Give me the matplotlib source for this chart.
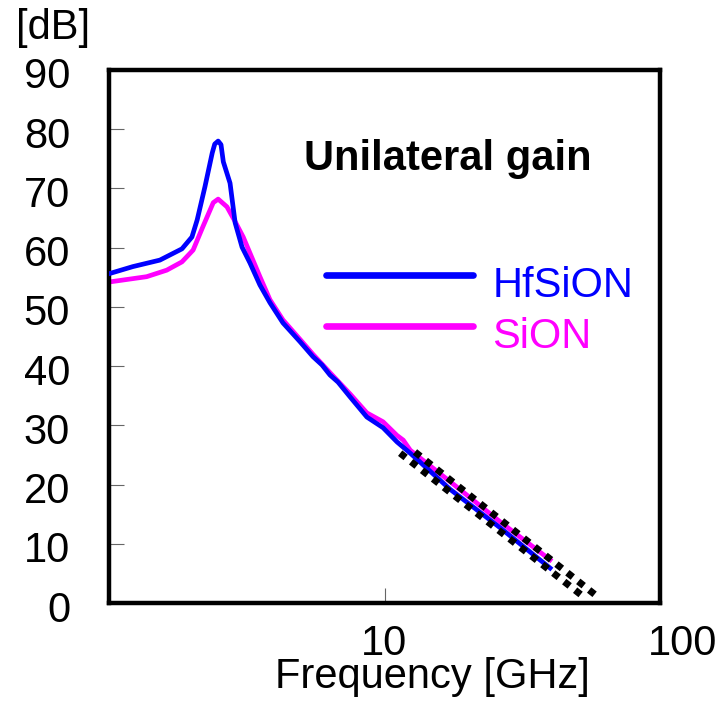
import matplotlib
matplotlib.use("Agg")
import matplotlib.pyplot as plt
from matplotlib.transforms import ScaledTranslation

plt.rcParams['font.family'] = ['Liberation Sans', 'DejaVu Sans']

#----------------------------------------------------------------
# Unilateral gain vs frequency (GHz, dB)
freq_hfsion = [1.0, 1.22, 1.53, 1.84, 2.00, 2.09, 2.23, 2.37, 2.42, 2.49, 2.55, 2.60,
               2.75, 2.87, 3.04, 3.25, 3.53, 3.84, 4.28, 4.94, 5.50, 5.93, 6.34, 6.78,
               7.50, 8.63, 9.88, 11.1, 12.4, 17.3, 26.3, 39.9]
gain_hfsion = [55.6, 56.8, 57.9, 59.8, 61.8, 64.7, 70.3, 76.0, 77.5, 78.0, 77.4, 74.5,
               70.9, 64.2, 60.1, 57.4, 53.7, 50.7, 47.3, 44.1, 41.6, 40.2, 38.5, 37.3,
               34.8, 31.4, 29.6, 27.2, 25.3, 19.2, 12.7, 5.9]

freq_sion = [1.0, 1.37, 1.62, 1.84, 2.02, 2.19, 2.39, 2.49, 2.68, 2.87, 3.07, 3.33,
             3.53, 3.84, 4.28, 4.94, 5.50, 6.34, 7.50, 8.63, 9.88, 11.1, 11.7, 12.4,
             17.3, 26.3, 39.9]
gain_sion = [54.2, 55.1, 56.2, 57.6, 59.6, 63.5, 67.6, 68.2, 66.9, 64.4, 61.8, 57.9,
             55.1, 51.2, 47.8, 44.5, 42.0, 38.9, 35.3, 32.1, 30.6, 28.3, 27.5, 25.8,
             20.5, 13.7, 7.3]

# extrapolation lines (start/end points)
fit_upper_f = [12.9, 59.6]
fit_upper_db = [25.5, 1.0]
fit_lower_f = [11.4, 53.5]
fit_lower_db = [25.3, 0.84]
#----------------------------------------------------------------

fig = plt.figure(figsize=(7.21, 7.14), dpi=100)
ax = fig.add_axes([109/721, 1 - 603/714, 551/721, 533/714])

ax.plot(freq_sion, gain_sion, color='#FF00FF', lw=3.4, solid_joinstyle='round', label='SiON', zorder=2)
ax.plot(freq_hfsion, gain_hfsion, color='#0000FF', lw=3.4, solid_joinstyle='round', label='HfSiON', zorder=3)
ax.plot(fit_upper_f, fit_upper_db, color='black', lw=5, ls=(0, (1, 1)), dash_capstyle='butt', zorder=4)
ax.plot(fit_lower_f, fit_lower_db, color='black', lw=5, ls=(0, (1, 1)), dash_capstyle='butt', zorder=4)

ax.set_xscale('log')
ax.set_xlim(1, 100)
ax.set_ylim(0, 90)
ax.set_yticks(range(0, 91, 10))
ax.set_xticks([10, 100])
ax.set_xticklabels(['10', '100'])
ax.xaxis.set_minor_locator(matplotlib.ticker.NullLocator())

for s in ax.spines.values():
    s.set_linewidth(3.2)
ax.tick_params(direction='in', length=10.8, width=0.8, color='#666666', labelsize=30)
ax.tick_params(axis='y', pad=28)
ax.tick_params(axis='x', pad=15)

ax.set_xlabel('Frequency [GHz]', fontsize=30)
ax.xaxis.set_label_coords((432 - 109)/551, (603 - 688)/533)
ax.xaxis.label.set_va('baseline')

fig.text(16/721, 1 - 39/714, '[dB]', fontsize=30, ha='left', va='baseline')

ax.text((448 - 109)/551, (603 - 170)/533, 'Unilateral gain', transform=ax.transAxes,
        fontsize=30, fontweight='bold', ha='center', va='baseline')

handles, labels = ax.get_legend_handles_labels()
leg = ax.legend(handles[::-1], labels[::-1], loc='upper left',
                bbox_to_anchor=((326 - 109)/551, (603 - 266)/533),
                frameon=False, fontsize=30, borderpad=0, borderaxespad=0,
                handlelength=3.53, handletextpad=0.46, labelspacing=0.26,
                labelcolor='linecolor')
for line in leg.get_lines():
    line.set_linewidth(4.8)
    line.set_solid_capstyle('round')
    line.set_ydata(line.get_ydata() + 5)

# shift tick labels: "100" sits right of its tick, y labels slightly low
fig.canvas.draw()
lab100 = ax.get_xticklabels()[1]
lab100.set_transform(lab100.get_transform() + ScaledTranslation(0.23, 0, fig.dpi_scale_trans))
for lab in ax.get_yticklabels():
    lab.set_transform(lab.get_transform() + ScaledTranslation(0, -0.03, fig.dpi_scale_trans))

fig.savefig('out.png', dpi=100)
